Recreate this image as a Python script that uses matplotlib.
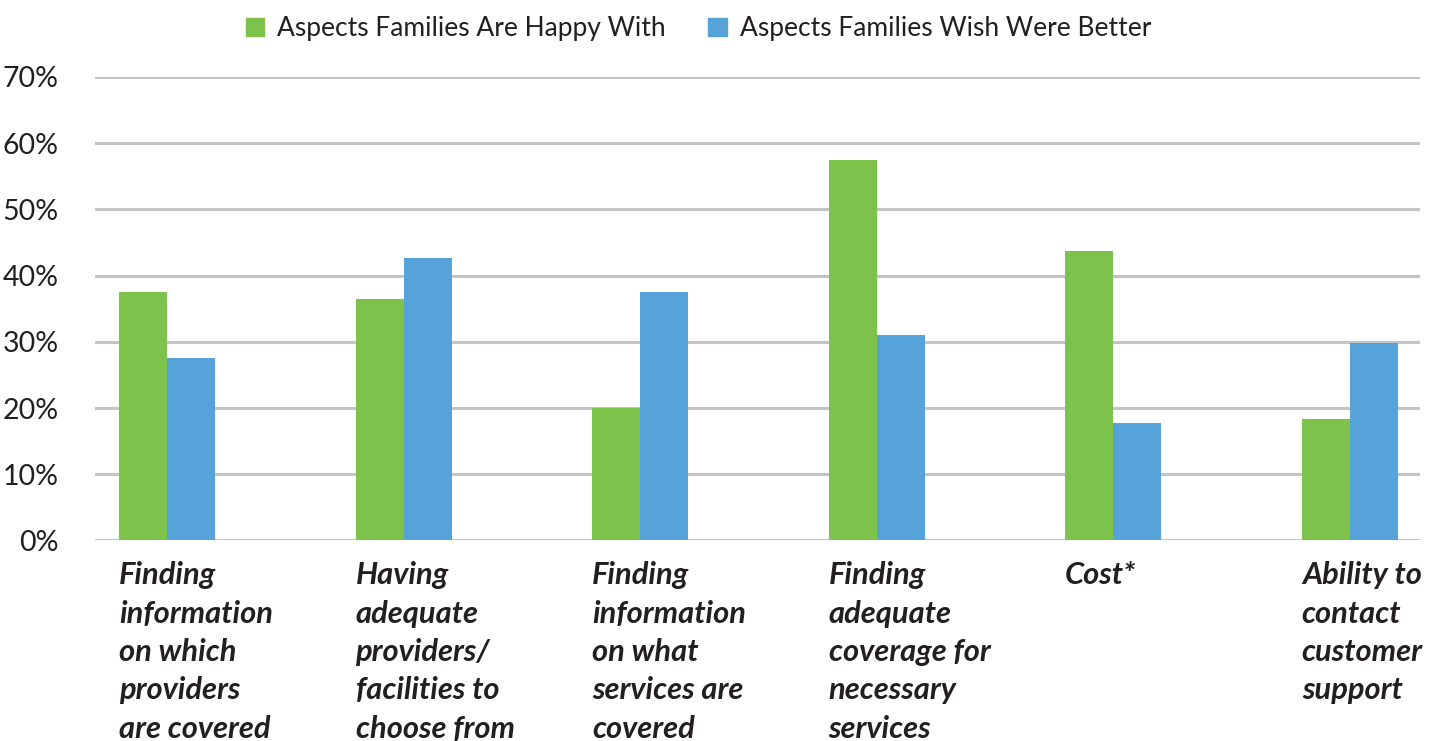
import matplotlib.pyplot as plt
import numpy as np
from matplotlib.patches import Patch
from matplotlib.transforms import blended_transform_factory

categories = [
    "Finding\ninformation\non which\nproviders\nare covered",
    "Having\nadequate\nproviders/\nfacilities to\nchoose from",
    "Finding\ninformation\non what\nservices are\ncovered",
    "Finding\nadequate\ncoverage for\nnecessary\nservices",
    "Cost*",
    "Ability to\ncontact\ncustomer\nsupport",
]
happy = [37.5, 36.5, 20.0, 57.5, 43.7, 18.4]
wish_better = [27.6, 42.7, 37.5, 31.0, 17.7, 29.9]
series_names = ["Aspects Families Are Happy With", "Aspects Families Wish Were Better"]
y_ticks = [0, 10, 20, 30, 40, 50, 60, 70]

GREEN = "#7DC24A"
BLUE = "#56A3DA"
GRID = "#C4C4C4"
TEXT = "#231F20"

plt.rcParams["font.family"] = ["Lato", "DejaVu Sans"]

fig = plt.figure(figsize=(14.4, 7.41), dpi=100)
ax = fig.add_axes([0.066, 0.2706, 0.92, 0.6255])

x = np.arange(len(categories))
w = 0.203
ax.bar(x - w / 2, happy, w, color=GREEN, zorder=3)
ax.bar(x + w / 2, wish_better, w, color=BLUE, zorder=3)

ax.set_xlim(-0.304, 5.296)
ax.set_ylim(0, 70)
ax.set_yticks(y_ticks)
ax.set_yticklabels([f"{v}%" for v in y_ticks], fontsize=20.5, color=TEXT)
ax.tick_params(axis="y", length=0, pad=26)
ax.set_xticks([])
ax.grid(axis="y", color=GRID, linewidth=2.2, zorder=0)
for s in ax.spines.values():
    s.set_visible(False)

trans = blended_transform_factory(ax.transData, ax.transAxes)
for xi, label in zip(x, categories):
    ax.text(xi - w, -0.045, label, transform=trans, ha="left", va="top",
            fontsize=22.2, fontweight="bold", fontstyle="italic",
            color=TEXT, linespacing=1.45)

handles = [Patch(color=GREEN), Patch(color=BLUE)]
fig.legend(handles, series_names, loc="center", bbox_to_anchor=(0.485, 0.961),
           ncol=2, frameon=False, fontsize=19, handlelength=0.7,
           handleheight=0.7, handletextpad=0.5, columnspacing=1.6,
           labelcolor=TEXT)

fig.savefig("out.png", dpi=100)
